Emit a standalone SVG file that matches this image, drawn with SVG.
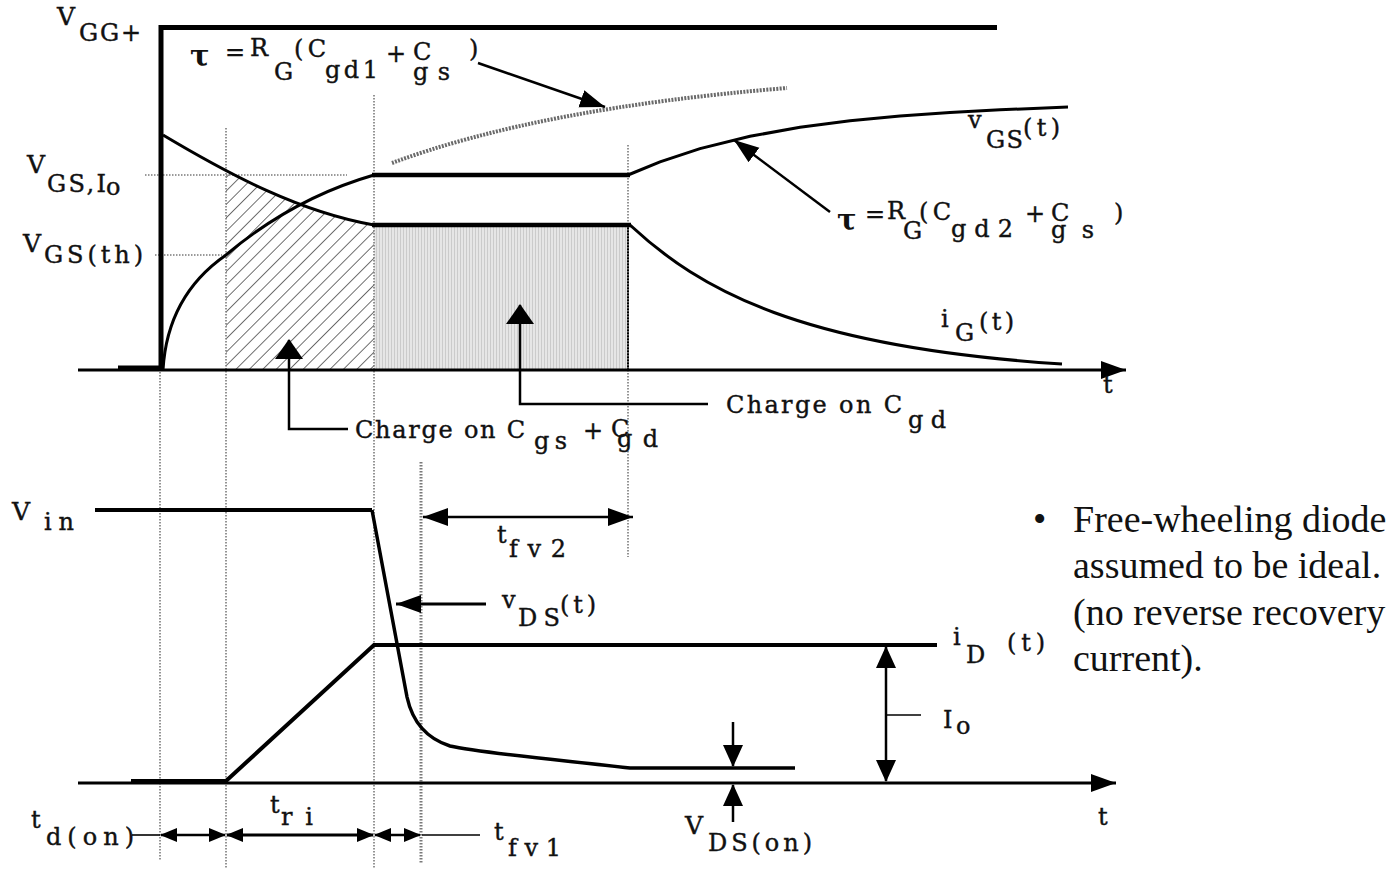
<svg xmlns="http://www.w3.org/2000/svg" width="1395" height="870" viewBox="0 0 1395 870">
<style>
.ax{stroke:#000;stroke-width:3;fill:none}
.thk{stroke:#000;stroke-width:4.5;fill:none}
.crv{stroke:#000;stroke-width:3;fill:none}
.dot{stroke:#7a7a7a;stroke-width:1.6;stroke-dasharray:1.5 1.5;fill:none}
.ldr{stroke:#000;stroke-width:2.5;fill:none}
.thin{stroke:#000;stroke-width:1.6;fill:none}
.lab{font-family:"DejaVu Serif",serif;font-size:24px;fill:#111;stroke:#111;stroke-width:0.4}
.big{font-size:25px}
.tau{font-family:"DejaVu Serif",serif;font-size:29px;font-weight:bold;fill:#111}
.note{font-family:"Liberation Serif","Times New Roman",serif;font-size:38px;fill:#111}
</style>
<defs>
<marker id="ah" markerUnits="userSpaceOnUse" markerWidth="26" markerHeight="20" refX="25" refY="10" orient="auto-start-reverse"><path d="M0,1 L25,10 L0,19 Z" fill="#000"/></marker>
<marker id="ahw" markerUnits="userSpaceOnUse" markerWidth="20" markerHeight="28" refX="19" refY="14" orient="auto"><path d="M0,0 L20,14 L0,28 Z" fill="#000"/></marker>
<marker id="ahs" markerUnits="userSpaceOnUse" markerWidth="17" markerHeight="14" refX="16" refY="7" orient="auto-start-reverse"><path d="M0,0 L17,7 L0,14 Z" fill="#000"/></marker>
<marker id="ahm" markerUnits="userSpaceOnUse" markerWidth="22" markerHeight="22" refX="21" refY="11" orient="auto-start-reverse"><path d="M0,1 L22,11 L0,21 Z" fill="#000"/></marker>
<pattern id="hatch" patternUnits="userSpaceOnUse" width="9.5" height="9.5" patternTransform="rotate(45)"><line x1="0" y1="0" x2="0" y2="9.5" stroke="#222" stroke-width="1.3"/></pattern>
<pattern id="grey" patternUnits="userSpaceOnUse" width="3" height="3"><rect width="3" height="3" fill="#e6e6e6"/><rect x="1" width="1" height="3" fill="#cbcbcb"/></pattern>
<clipPath id="hc"><rect x="226" y="100" width="148" height="270"/></clipPath>
</defs>
<rect width="1395" height="870" fill="#fff"/>

<g id="charge-areas">
<path d="M163,135 C230,175 300,212 374,225 L374,370 L163,370 Z" fill="url(#hatch)" clip-path="url(#hc)"/>
<rect x="374" y="225" width="254" height="145" fill="url(#grey)"/>
<line x1="628" y1="225" x2="628" y2="370" stroke="#000" stroke-width="2"/>
</g>

<g id="guides">
<line class="dot" x1="160" y1="372" x2="160" y2="860"/>
<line class="dot" x1="226" y1="128" x2="226" y2="868"/>
<line class="dot" x1="374" y1="95" x2="374" y2="868"/>
<line class="dot" x1="421" y1="462" x2="421" y2="864" style="stroke-width:3"/>
<line class="dot" x1="628" y1="145" x2="628" y2="557"/>
<line class="dot" x1="145" y1="175" x2="347" y2="175"/>
<line class="dot" x1="155" y1="255" x2="222" y2="255"/>
</g>

<g id="top-axis">
<line class="ax" x1="78" y1="370" x2="1126" y2="370" marker-end="url(#ah)"/>
</g>
<g id="vgg-step">
<path class="thk" d="M118,368 H161 V27.5 H997" style="stroke-width:5"/>
</g>
<g id="vgs-curve">
<path class="crv" d="M163,370 C166,318 190,280 226,255 C265,222 315,192 374,175"/>
<line class="thk" x1="372" y1="175" x2="630" y2="175"/>
<path class="crv" d="M628,175 L660,161.8 L700,148.6 L750,136.3 L800,127.2 L850,120.7 L900,115.9 L950,112.4 L1000,109.8 L1068,107"/>
<path d="M392,163 Q540,108 787,88" fill="none" stroke="#6a6a6a" stroke-width="4" stroke-dasharray="2 1.3"/>
</g>
<g id="ig-curve">
<path class="crv" d="M163,135 C230,175 300,212 374,225"/>
<line class="thk" x1="372" y1="225" x2="631" y2="225"/>
<path class="crv" d="M630,225 C700,290 800,347 1062,364"/>
</g>

<g id="bottom-axis">
<line class="ax" x1="78" y1="783" x2="1116" y2="783" marker-end="url(#ah)"/>
</g>
<g id="vds-curve">
<path class="ldr" d="M95,510 H372" style="stroke-width:4"/>
<path class="crv" d="M372,510 L407,697 C412,720 425,738 450,746 C480,753 560,760 630,768 L795,768" style="stroke-width:3.5"/>
</g>
<g id="id-curve">
<path class="thk" d="M131,781 H226 L374,645 H937" style="stroke-width:4"/>
</g>

<g id="connectors">
<line class="ldr" x1="478" y1="63" x2="605" y2="107" marker-end="url(#ah)"/>
<line class="ldr" x1="830" y1="212" x2="734" y2="140" marker-end="url(#ah)"/>
<path class="ldr" d="M348,429 H289 V340" marker-end="url(#ahw)"/>
<path class="ldr" d="M708,404 H520 V305" marker-end="url(#ahw)"/>
<line class="ldr" x1="423" y1="517" x2="633" y2="517" marker-start="url(#ah)" marker-end="url(#ah)"/>
<line class="ldr" x1="486" y1="604" x2="396" y2="604" marker-end="url(#ah)" style="stroke-width:3"/>
<line class="ldr" x1="886" y1="647" x2="886" y2="781" marker-start="url(#ahm)" marker-end="url(#ahm)"/>
<line class="thin" x1="886" y1="715" x2="921" y2="715"/>
<line class="ldr" x1="733" y1="722" x2="733" y2="766" marker-end="url(#ahm)"/>
<line class="ldr" x1="733" y1="822" x2="733" y2="785" marker-end="url(#ahm)"/>
<line class="thin" x1="132" y1="835" x2="160" y2="835"/>
<line class="ldr" x1="161" y1="835" x2="225" y2="835" marker-start="url(#ahs)" marker-end="url(#ahs)"/>
<line class="ldr" x1="227" y1="835" x2="373" y2="835" marker-start="url(#ahs)" marker-end="url(#ahs)" style="stroke-width:3"/>
<line class="ldr" x1="375" y1="835" x2="420" y2="835" marker-start="url(#ahs)" marker-end="url(#ahs)"/>
<line class="thin" x1="422" y1="835" x2="480" y2="835"/>
</g>

<g id="lbl-vgg"><text class="lab big" x="57" y="25">V</text><text class="lab" x="79" y="41" textLength="62">GG+</text></g>
<g id="lbl-tau1">
<text class="tau" x="190" y="66">τ</text>
<text class="lab" x="225" y="60" font-size="19">=</text>
<text class="lab" x="250" y="56">R</text>
<text class="lab" x="274" y="80">G</text>
<text class="lab" x="294" y="57" textLength="32">(C</text>
<text class="lab" x="325" y="78" textLength="53">gd1</text>
<text class="lab" x="386" y="62" font-size="19">+</text>
<text class="lab" x="413" y="60">C</text>
<text class="lab" x="413" y="80" textLength="37">gs</text>
<text class="lab" x="469" y="57">)</text>
</g>
<g id="lbl-tau2">
<text class="tau" x="837" y="230">τ</text>
<text class="lab" x="865" y="222" font-size="19">=</text>
<text class="lab" x="887" y="219">R</text>
<text class="lab" x="903" y="239">G</text>
<text class="lab" x="919" y="220" textLength="32">(C</text>
<text class="lab" x="951" y="237" textLength="62">gd2</text>
<text class="lab" x="1025" y="222" font-size="19">+</text>
<text class="lab" x="1051" y="221">C</text>
<text class="lab" x="1051" y="238" textLength="43">gs</text>
<text class="lab" x="1114" y="221">)</text>
</g>
<g id="lbl-vgst"><text class="lab" x="968" y="128">v</text><text class="lab" x="986" y="148" textLength="37">GS</text><text class="lab" x="1023" y="136" textLength="37">(t)</text></g>
<g id="lbl-vgsio"><text class="lab big" x="27" y="173">V</text><text class="lab" x="47" y="192" textLength="59">GS,I</text><text class="lab" x="106" y="195">o</text></g>
<g id="lbl-vgsth"><text class="lab big" x="23" y="252">V</text><text class="lab" x="44" y="263" textLength="99">GS(th)</text></g>
<g id="lbl-t1"><text class="lab" x="1103" y="393">t</text></g>
<g id="lbl-igt"><text class="lab" x="941" y="327">i</text><text class="lab" x="955" y="341">G</text><text class="lab" x="979" y="330" textLength="35">(t)</text></g>
<g id="lbl-charge1"><text class="lab" x="355" y="438" textLength="170">Charge on C</text><text class="lab" x="534" y="449" textLength="33">gs</text><text class="lab" x="583" y="439">+</text><text class="lab" x="611" y="437">C</text><text class="lab" x="617" y="447" textLength="41">gd</text></g>
<g id="lbl-charge2"><text class="lab" x="726" y="413" textLength="176">Charge on C</text><text class="lab" x="908" y="428" textLength="38">gd</text></g>

<g id="lbl-vin"><text class="lab big" x="12" y="520">V</text><text class="lab" x="44" y="530" textLength="30">in</text></g>
<g id="lbl-tfv2"><text class="lab" x="497" y="543">t</text><text class="lab" x="509" y="557" textLength="57">fv2</text></g>
<g id="lbl-vdst"><text class="lab" x="502" y="608">v</text><text class="lab" x="518" y="626" textLength="42">DS</text><text class="lab" x="560" y="613" textLength="36">(t)</text></g>
<g id="lbl-idt"><text class="lab" x="953" y="645">i</text><text class="lab" x="966" y="663">D</text><text class="lab" x="1007" y="651" textLength="38">(t)</text></g>
<g id="lbl-io"><text class="lab" x="943" y="728">I</text><text class="lab" x="956" y="734">o</text></g>
<g id="lbl-t2"><text class="lab" x="1098" y="825">t</text></g>
<g id="lbl-vdson"><text class="lab big" x="685" y="834">V</text><text class="lab" x="708" y="851" textLength="104">DS(on)</text></g>
<g id="lbl-tdon"><text class="lab" x="31" y="828">t</text><text class="lab" x="46" y="845" textLength="88">d(on)</text></g>
<g id="lbl-tri"><text class="lab" x="270" y="813">t</text><text class="lab" x="281" y="825" textLength="32">ri</text></g>
<g id="lbl-tfv1"><text class="lab" x="494" y="840">t</text><text class="lab" x="508" y="856" textLength="53">fv1</text></g>

<g id="note">
<text class="note" x="1033" y="532">•</text>
<text class="note" x="1073" y="532">Free-wheeling diode</text>
<text class="note" x="1073" y="578">assumed to be ideal.</text>
<text class="note" x="1073" y="625">(no reverse recovery</text>
<text class="note" x="1073" y="671">current).</text>
</g>
</svg>
